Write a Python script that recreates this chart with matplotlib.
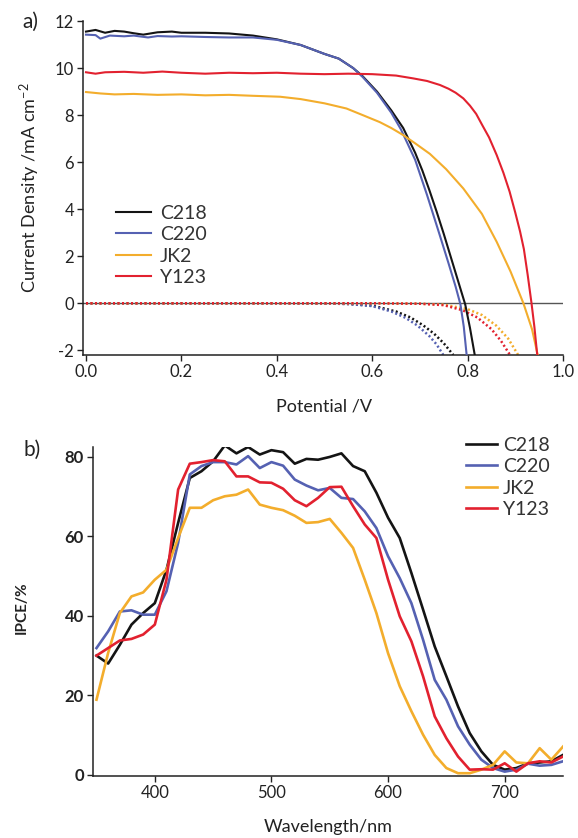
import matplotlib
matplotlib.use("Agg")
import matplotlib.pyplot as plt

plt.rcParams['font.family'] = ['Lato', 'DejaVu Sans']
plt.rcParams['mathtext.fontset'] = 'custom'
plt.rcParams['mathtext.rm'] = 'Lato'
plt.rcParams['mathtext.it'] = 'Lato:italic'
plt.rcParams['axes.unicode_minus'] = False

names = ["C218", "C220", "JK2", "Y123"]
colors = ["#141414", "#5561b2", "#f3ad2c", "#e2212f"]

# --- a) J-V curves under light (solid) ---
v_c218 = [0.00, 0.02, 0.04, 0.06, 0.08, 0.10, 0.12, 0.15, 0.18, 0.20, 0.25, 0.30, 0.35, 0.40, 0.45,
          0.50, 0.53, 0.56, 0.58, 0.61, 0.64, 0.665, 0.69, 0.705, 0.72, 0.735, 0.75, 0.765, 0.78, 0.795,
          0.805, 0.815]
j_c218 = [11.55, 11.62, 11.50, 11.58, 11.55, 11.48, 11.42, 11.52, 11.55, 11.50, 11.50, 11.47, 11.38, 11.22, 10.98,
          10.60, 10.40, 10.00, 9.65, 9.00, 8.20, 7.45, 6.40, 5.65, 4.80, 3.90, 2.95, 1.95, 0.95, -0.05,
          -1.05, -2.20]
v_c220 = [0.00, 0.02, 0.03, 0.05, 0.08, 0.10, 0.13, 0.15, 0.18, 0.20, 0.25, 0.30, 0.35, 0.40, 0.45,
          0.50, 0.53, 0.56, 0.58, 0.61, 0.64, 0.66, 0.69, 0.715, 0.74, 0.76, 0.775, 0.785, 0.792, 0.798]
j_c220 = [11.42, 11.40, 11.25, 11.38, 11.35, 11.38, 11.30, 11.36, 11.34, 11.35, 11.32, 11.30, 11.30, 11.20, 10.98,
          10.60, 10.40, 10.00, 9.62, 8.95, 8.10, 7.40, 6.10, 4.60, 3.00, 1.70, 0.70, -0.05, -1.00, -2.20]
v_jk2 = [0.00, 0.03, 0.06, 0.10, 0.15, 0.20, 0.25, 0.30, 0.35, 0.407, 0.45, 0.50, 0.546, 0.58, 0.616,
         0.64, 0.665, 0.69, 0.721, 0.755, 0.791, 0.83, 0.861, 0.89, 0.917, 0.935, 0.947]
j_jk2 = [8.98, 8.92, 8.88, 8.90, 8.86, 8.88, 8.84, 8.86, 8.82, 8.78, 8.68, 8.50, 8.28, 8.00, 7.70,
         7.45, 7.15, 6.80, 6.35, 5.70, 4.88, 3.80, 2.61, 1.35, 0.00, -1.10, -2.20]
v_y123 = [0.00, 0.02, 0.04, 0.08, 0.12, 0.16, 0.20, 0.25, 0.30, 0.35, 0.40, 0.45, 0.50, 0.55, 0.60, 0.65,
          0.686, 0.715, 0.742, 0.76, 0.775, 0.791, 0.805, 0.818, 0.83, 0.845, 0.861, 0.875, 0.888, 0.90,
          0.91, 0.918, 0.926, 0.934, 0.940, 0.946]
j_y123 = [9.82, 9.76, 9.82, 9.84, 9.80, 9.85, 9.80, 9.76, 9.80, 9.78, 9.80, 9.76, 9.74, 9.76, 9.74, 9.68,
          9.56, 9.45, 9.28, 9.12, 8.95, 8.71, 8.40, 8.05, 7.60, 7.05, 6.30, 5.55, 4.75, 3.85,
          3.05, 2.30, 1.20, 0.00, -1.00, -2.20]

# --- a) dark currents (dotted) ---
vd_c218 = [0.00, 0.20, 0.40, 0.50, 0.55, 0.60, 0.65, 0.68, 0.707, 0.73, 0.75, 0.77]
jd_c218 = [0.00, 0.00, 0.00, -0.01, -0.03, -0.10, -0.35, -0.60, -0.94, -1.30, -1.70, -2.20]
vd_c220 = [0.00, 0.20, 0.40, 0.50, 0.55, 0.60, 0.64, 0.67, 0.695, 0.72, 0.735, 0.749]
jd_c220 = [0.00, 0.00, 0.00, -0.01, -0.03, -0.12, -0.35, -0.62, -0.95, -1.40, -1.75, -2.20]
vd_jk2 = [0.00, 0.30, 0.60, 0.70, 0.75, 0.80, 0.83, 0.86, 0.885, 0.906]
jd_jk2 = [0.00, 0.00, 0.00, -0.02, -0.06, -0.25, -0.50, -0.95, -1.50, -2.20]
vd_y123 = [0.00, 0.30, 0.60, 0.70, 0.75, 0.79, 0.82, 0.85, 0.87, 0.889]
jd_y123 = [0.00, 0.00, 0.00, -0.02, -0.08, -0.30, -0.60, -1.10, -1.60, -2.20]

# --- b) IPCE spectra ---
wl = [350, 360, 370, 380, 390, 400, 410, 420, 430, 440, 450, 460, 470, 480, 490, 500, 510, 520, 530, 540,
      550, 560, 570, 580, 590, 600, 610, 620, 630, 640, 650, 660, 670, 680, 690, 700, 710, 720, 730, 740, 750]
ipce_c218 = [30.0, 28.0, 32.7, 37.8, 40.7, 43.2, 51.6, 63.4, 74.7, 76.4, 78.9, 82.9, 80.9, 82.5, 80.6, 81.7,
             81.2, 78.3, 79.5, 79.3, 80.0, 80.9, 77.7, 76.4, 71.0, 64.7, 59.6, 50.8, 41.6, 32.3, 24.8, 17.2,
             10.5, 5.9, 2.5, 1.3, 1.7, 2.9, 3.1, 3.4, 5.0]
ipce_c220 = [31.9, 36.1, 41.1, 41.4, 40.3, 40.3, 46.2, 58.4, 75.6, 77.7, 78.7, 78.7, 78.1, 80.2, 77.2, 78.7,
             77.8, 74.3, 72.8, 71.6, 72.2, 69.7, 69.4, 66.3, 62.1, 55.0, 49.5, 43.2, 34.0, 23.9, 18.9, 12.2,
             7.6, 3.8, 1.7, 0.8, 1.3, 2.8, 2.3, 2.5, 3.4]
ipce_jk2 = [18.9, 30.7, 40.7, 44.9, 45.9, 49.1, 51.6, 59.6, 67.2, 67.2, 69.1, 70.1, 70.5, 71.8, 68.0, 67.2,
            66.6, 65.2, 63.4, 63.6, 64.4, 60.9, 57.1, 49.1, 40.7, 30.6, 22.3, 16.0, 10.1, 5.0, 1.7, 0.4,
            0.4, 1.3, 2.5, 5.9, 3.1, 2.9, 6.7, 3.8, 7.1]
ipce_y123 = [30.0, 31.9, 33.8, 34.2, 35.3, 37.8, 49.1, 71.8, 78.3, 78.7, 79.2, 78.9, 75.1, 75.1, 73.6, 73.5,
             72.0, 69.1, 67.6, 69.7, 72.4, 72.5, 67.6, 63.0, 59.6, 49.1, 39.9, 33.6, 24.8, 14.7, 9.2, 4.6,
             1.3, 1.4, 1.3, 2.9, 0.8, 2.9, 3.4, 3.1, 4.6]

light = [(v_c218, j_c218), (v_c220, j_c220), (v_jk2, j_jk2), (v_y123, j_y123)]
dark = [(vd_c218, jd_c218), (vd_c220, jd_c220), (vd_jk2, jd_jk2), (vd_y123, jd_y123)]
ipce = [ipce_c218, ipce_c220, ipce_jk2, ipce_y123]

W, H = 578, 838
fig = plt.figure(figsize=(W / 100, H / 100), dpi=100)
ax1 = fig.add_axes([83 / W, 1 - 355 / H, 480 / W, 334 / H])
ax2 = fig.add_axes([93 / W, 1 - 776 / H, 470 / W, 329 / H])

for ax in (ax1, ax2):
    for s in ("top", "right"):
        ax.spines[s].set_visible(False)
    for s in ("left", "bottom"):
        ax.spines[s].set_linewidth(1.1)
        ax.spines[s].set_color("#222222")
    ax.tick_params(direction="out", length=4.5, width=1.0, labelsize=12, colors="#222222", pad=2)

# top panel
ax1.axhline(0, color="#555555", lw=1.0, zorder=1)
for (v, j), c in zip(dark, colors):
    ax1.plot(v, j, color=c, lw=1.8, ls=(0, (0.8, 1.0)), zorder=2)
for (v, j), c, n in zip(light, colors, names):
    ax1.plot(v, j, color=c, lw=1.5, label=n, zorder=3)
ax1.set_xlim(-0.0063, 1.0)
ax1.set_ylim(-2.2, 12)
ax1.set_xticks([0.0, 0.2, 0.4, 0.6, 0.8, 1.0])
ax1.set_xticklabels(["0.0", "0.2", "0.4", "0.6", "0.8", "1.0"])
ax1.set_yticks([-2, 0, 2, 4, 6, 8, 10, 12])
leg1 = ax1.legend(loc="upper left", bbox_to_anchor=(116 / W, 1 - 205 / H), bbox_transform=fig.transFigure,
                  frameon=False, fontsize=14, handlelength=1.8, handletextpad=0.45, labelspacing=0.22,
                  borderpad=0, borderaxespad=0)
for t in leg1.get_texts():
    t.set_color("#333333")

# bottom panel
for y, c, n in zip(ipce, colors, names):
    ax2.plot(wl, y, color=c, lw=1.9, label=n)
ax2.set_xlim(347, 750)
ax2.set_ylim(-0.3, 82.5)
ax2.set_xticks([400, 500, 600, 700])
ax2.set_yticks([0, 20, 40, 60, 80])
for t in ax2.get_yticklabels():
    t.set_fontweight("bold")
leg2 = ax2.legend(loc="upper left", bbox_to_anchor=(466 / W, 1 - 437 / H), bbox_transform=fig.transFigure,
                  frameon=False, fontsize=14, handlelength=1.6, handletextpad=0.3, labelspacing=0.22,
                  borderpad=0, borderaxespad=0)
for t in leg2.get_texts():
    t.set_color("#333333")

# labels
fig.text(30 / W, 1 - 22 / H, "a)", fontsize=15, ha="center", va="center", color="#222222")
fig.text(30 / W, 1 - 188 / H, "Current Density /mA cm$^{-2}$", fontsize=13, rotation=90,
         ha="center", va="center", color="#222222")
fig.text(324 / W, 1 - 407 / H, "Potential /V", fontsize=13, ha="center", va="center", color="#222222")
fig.text(32 / W, 1 - 450 / H, "b)", fontsize=15, ha="center", va="center", color="#222222")
fig.text(22 / W, 1 - 608 / H, "IPCE/%", fontsize=11, fontweight="bold", rotation=90,
         ha="center", va="center", color="#222222")
fig.text(328 / W, 1 - 827 / H, "Wavelength/nm", fontsize=13, ha="center", va="center", color="#222222")

fig.savefig("out.png", dpi=100)
